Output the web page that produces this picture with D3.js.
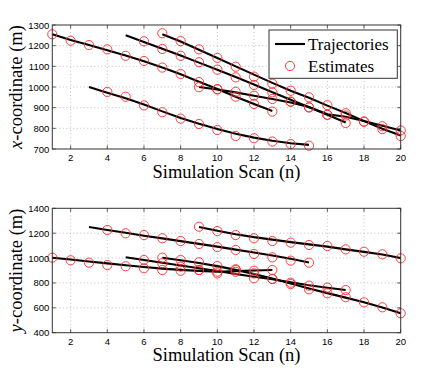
<!DOCTYPE html>
<html>
<head>
<meta charset="utf-8">
<script src="https://cdn.jsdelivr.net/npm/d3@7"></script>
<style>
  body { margin: 0; background: #fff; }
  svg { display: block; }
</style>
</head>
<body>
<div id="chart"></div>
<script>
/*--- datos: escaneos ---*/
let scans = d3.range(1, 21)
let xTicks = [2, 4, 6, 8, 10, 12, 14, 16, 18, 20]
let topTicks = [700, 800, 900, 1000, 1100, 1200, 1300]
let botTicks = [400, 600, 800, 1000, 1200, 1400]

// x-coordinate: trayectorias (inicio, valores)
let xStart = [1, 3, 5, 7, 9]
let xTrack1 = [1255, 1228, 1203, 1178, 1152, 1124, 1094, 1062, 1025, 990, 953, 918, 884]
let xTrack2 = [1000, 972, 945, 915, 882, 850, 822, 797, 774, 755, 740, 728, 720]
let xTrack3 = [1250, 1218, 1185, 1152, 1118, 1083, 1048, 1012, 975, 938, 902, 866, 828]
let xTrack4 = [1255, 1220, 1180, 1140, 1100, 1060, 1020, 982, 948, 910, 874, 835, 798, 765]
let xTrack5 = [1000, 988, 974, 958, 942, 925, 903, 868, 856, 835, 812, 790]

// x-coordinate: estimaciones (inicio, valores)
let xEstStart = [1, 4, 6, 7, 9]
let xEst1 = [1255, 1224, 1203, 1182, 1151, 1126, 1094, 1063, 1024, 990, 953, 918, 881]
let xEst2 = [976, 953, 911, 878, 847, 821, 792, 763, 752, 736, 724, 716]
let xEst3 = [1221, 1184, 1151, 1120, 1084, 1047, 1010, 974, 929, 901, 866, 826]
let xEst4 = [1260, 1222, 1182, 1141, 1098, 1050, 1016, 982, 950, 912, 873, 833, 796, 763]
let xEst5 = [999, 988, 977, 958, 942, 929, 902, 865, 862, 832, 810, 790]

// y-coordinate: trayectorias (inicio, valores)
let yStart = [1, 3, 5, 7, 9]
let yTrack1 = [1003, 988, 972, 957, 942, 928, 915, 905, 897, 890, 895, 900, 904]
let yTrack2 = [1250, 1226, 1203, 1180, 1158, 1136, 1114, 1092, 1068, 1044, 1020, 994, 965]
let yTrack3 = [1006, 984, 962, 940, 918, 896, 872, 850, 830, 806, 782, 762, 743]
let yTrack4 = [1003, 982, 960, 935, 905, 872, 836, 795, 755, 718, 682, 644, 602, 556]
let yTrack5 = [1250, 1220, 1192, 1168, 1148, 1128, 1110, 1092, 1070, 1050, 1028, 1000]

// y-coordinate: estimaciones (inicio, valores)
let yEstStart = [1, 4, 6, 7, 9]
let yEst1 = [1003, 982, 963, 944, 934, 918, 904, 898, 904, 877, 904, 898, 904]
let yEst2 = [1226, 1199, 1185, 1159, 1137, 1113, 1088, 1065, 1033, 1006, 979, 963]
let yEst3 = [984, 958, 931, 904, 890, 890, 837, 832, 802, 778, 762, 743]
let yEst4 = [1003, 984, 966, 936, 910, 877, 832, 791, 749, 717, 685, 644, 604, 556]
let yEst5 = [1252, 1217, 1185, 1159, 1137, 1124, 1105, 1097, 1070, 1051, 1030, 998]

/*--- variables técnicas ---*/
let width = 436
let height = 375
let left = 52.3, right = 400.7
let serif = "Liberation Serif, serif"
let sans = "Liberation Sans, Arial, sans-serif"

let svg = d3.select("#chart").append("svg")
    .attr("width", width).attr("height", height)

let x = d3.scaleLinear().domain([1, 20]).range([left, right])

function aPuntos(start, vals) {
    return vals.map((v, i) => ({ s: start + i, v: v }))
}

function panel(top, bottom, dom, ticks, tracks, tStarts, ests, eStarts, label, italic) {
    let y = d3.scaleLinear().domain(dom).range([bottom, top])
    let g = svg.append("g")

    // rejilla punteada
    g.append("g").selectAll("line").data(xTicks.filter(t => t < 20)).enter().append("line")
        .attr("x1", d => x(d)).attr("x2", d => x(d))
        .attr("y1", top).attr("y2", bottom)
        .attr("stroke", "#b0b0b0").attr("stroke-width", 0.8).attr("stroke-dasharray", "1,2.5")
    g.append("g").selectAll("line").data(ticks.slice(1, -1)).enter().append("line")
        .attr("x1", left).attr("x2", right)
        .attr("y1", d => y(d)).attr("y2", d => y(d))
        .attr("stroke", "#b0b0b0").attr("stroke-width", 0.8).attr("stroke-dasharray", "1,2.5")

    // marcas hacia dentro
    let tk = g.append("g").attr("stroke", "#333").attr("stroke-width", 0.8)
    xTicks.forEach(t => {
        tk.append("line").attr("x1", x(t)).attr("x2", x(t)).attr("y1", bottom).attr("y2", bottom - 3.5)
        tk.append("line").attr("x1", x(t)).attr("x2", x(t)).attr("y1", top).attr("y2", top + 3.5)
    })
    ticks.forEach(t => {
        tk.append("line").attr("x1", left).attr("x2", left + 3.5).attr("y1", y(t)).attr("y2", y(t))
        tk.append("line").attr("x1", right).attr("x2", right - 3.5).attr("y1", y(t)).attr("y2", y(t))
    })

    // trayectorias
    let linea = d3.line().x(d => x(d.s)).y(d => y(d.v))
    tracks.forEach((t, i) => {
        g.append("path").datum(aPuntos(tStarts[i], t))
            .attr("d", linea).attr("fill", "none")
            .attr("stroke", "#000").attr("stroke-width", 2.1)
    })

    // estimaciones
    ests.forEach((e, i) => {
        g.append("g").selectAll("circle").data(aPuntos(eStarts[i], e)).enter().append("circle")
            .attr("cx", d => x(d.s)).attr("cy", d => y(d.v)).attr("r", 4.6)
            .attr("fill", "none").attr("stroke", "#ff2a2a").attr("stroke-width", 0.9)
    })

    // caja
    g.append("rect").attr("x", left).attr("y", top)
        .attr("width", right - left).attr("height", bottom - top)
        .attr("fill", "none").attr("stroke", "#333").attr("stroke-width", 1)

    // etiquetas de marcas
    g.append("g").selectAll("text").data(xTicks).enter().append("text")
        .attr("x", d => x(d)).attr("y", bottom + 12)
        .attr("text-anchor", "middle")
        .style("font-family", sans).style("font-size", "9.5px")
        .text(d => d)
    g.append("g").selectAll("text").data(ticks).enter().append("text")
        .attr("x", left - 3).attr("y", d => y(d) + 3.5)
        .attr("text-anchor", "end")
        .style("font-family", sans).style("font-size", "9.5px")
        .text(d => d)

    // títulos
    g.append("text").attr("x", (left + right) / 2).attr("y", bottom + 28.5)
        .attr("text-anchor", "middle")
        .style("font-family", serif).style("font-size", "18.5px")
        .text("Simulation Scan (n)")
    let yl = g.append("text")
        .attr("transform", "translate(22," + ((top + bottom) / 2) + ") rotate(-90)")
        .attr("text-anchor", "middle")
        .style("font-family", serif).style("font-size", "18.5px")
    yl.append("tspan").style("font-style", "italic").text(italic)
    yl.append("tspan").text(label)
    return g
}

panel(25, 149, [700, 1300], topTicks,
    [xTrack1, xTrack2, xTrack3, xTrack4, xTrack5], xStart,
    [xEst1, xEst2, xEst3, xEst4, xEst5], xEstStart, "-coordinate (m)", "x")

panel(208.3, 332.7, [400, 1400], botTicks,
    [yTrack1, yTrack2, yTrack3, yTrack4, yTrack5], yStart,
    [yEst1, yEst2, yEst3, yEst4, yEst5], yEstStart, "-coordinate (m)", "y")

/*--- leyenda ---*/
let ley = svg.append("g")
ley.append("rect").attr("x", 269).attr("y", 30).attr("width", 128.3).attr("height", 48.3)
    .attr("fill", "#fff").attr("stroke", "#333").attr("stroke-width", 1)
ley.append("line").attr("x1", 275).attr("x2", 305).attr("y1", 44).attr("y2", 44)
    .attr("stroke", "#000").attr("stroke-width", 2.1)
ley.append("circle").attr("cx", 290).attr("cy", 66).attr("r", 4.6)
    .attr("fill", "none").attr("stroke", "#ff2a2a").attr("stroke-width", 0.9)
ley.selectAll("text.item").data(["Trajectories", "Estimates"]).enter().append("text")
    .attr("x", 308).attr("y", (d, i) => 49.5 + i * 22)
    .style("font-family", serif).style("font-size", "17px")
    .text(d => d)
</script>
</body>
</html>
